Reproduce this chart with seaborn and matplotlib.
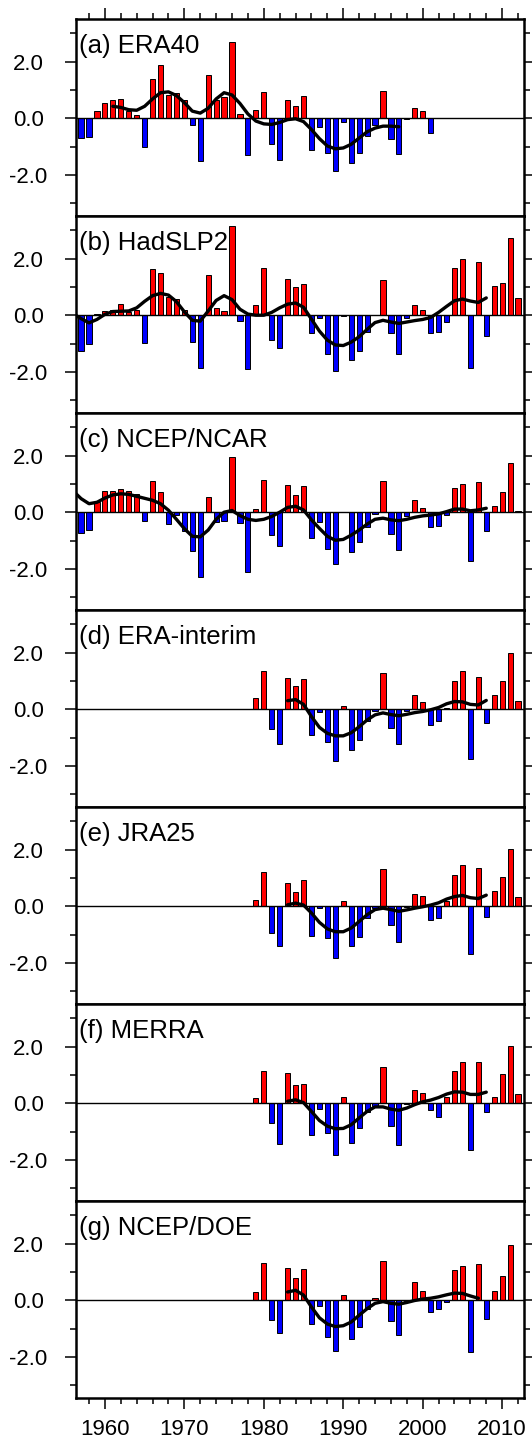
import numpy as np
import pandas as pd
import matplotlib
matplotlib.use("Agg")
import matplotlib.pyplot as plt
import seaborn as sns
from matplotlib.ticker import FixedLocator, MultipleLocator

# ---------------- data ----------------
era40_years = list(range(1957, 2002))
era40 = [-0.71, -0.65, 0.24, 0.55, 0.65, 0.69, 0.24, 0.10, -1.01, 1.40,
         1.87, 0.81, 0.88, 0.65, -0.23, -1.51, 1.52, 0.63, 0.74, 2.69,
         0.14, -1.30, 0.29, 0.93, -0.92, -1.46, 0.63, 0.42, 0.77, -1.12,
         -0.32, -1.23, -1.88, -0.14, -1.58, -1.23, -0.62, -0.24, 0.95, -0.74,
         -1.27, -0.03, 0.36, 0.27, -0.52]
era40_smooth_years = list(range(1961, 1998))
era40_smooth = [0.42, 0.38, 0.30, 0.28, 0.42, 0.68, 0.90, 0.93, 0.80, 0.55,
                0.25, 0.18, 0.35, 0.68, 0.90, 0.82, 0.52, 0.15, -0.10, -0.20,
                -0.22, -0.15, -0.05, -0.02, -0.12, -0.40, -0.72, -0.98, -1.08, -1.05,
                -0.92, -0.70, -0.48, -0.35, -0.28, -0.28, -0.30]

long_years = list(range(1957, 2013))
hadslp2 = [-1.25, -1.02, 0.03, 0.14, 0.17, 0.40, 0.10, 0.20, -0.98, 1.64,
           1.48, 0.63, 0.58, 0.20, -0.94, -1.85, 1.43, 0.25, 0.14, 3.13,
           -0.21, -1.89, 0.36, 1.67, -0.86, -1.15, 1.26, 0.98, 1.10, -0.63,
           -0.11, -1.38, -1.96, -0.02, -1.57, -1.27, -0.58, 0.02, 1.23, -0.64,
           -1.36, -0.11, 0.35, 0.20, -0.62, -0.58, -0.25, 1.67, 2.00, -1.85,
           1.88, -0.75, 1.04, 1.14, 2.73, 0.60]
long_smooth_years = list(range(1956, 2009))
hadslp2_smooth = [0.05, -0.12, -0.27, -0.15, 0.03, 0.13, 0.14, 0.15, 0.26, 0.49,
                  0.69, 0.77, 0.71, 0.48, 0.12, -0.18, -0.21, 0.15, 0.52, 0.69,
                  0.55, 0.21, 0.04, 0.00, 0.00, 0.10, 0.26, 0.39, 0.43, 0.28,
                  -0.14, -0.56, -0.88, -1.05, -1.07, -0.95, -0.76, -0.50, -0.26, -0.18,
                  -0.24, -0.29, -0.24, -0.19, -0.15, -0.08, 0.10, 0.31, 0.51, 0.57,
                  0.50, 0.45, 0.61]

ncep_ncar = [-0.73, -0.63, 0.35, 0.76, 0.74, 0.81, 0.76, 0.65, -0.31, 1.11,
             0.70, -0.42, -0.11, -0.65, -1.36, -2.27, 0.55, -0.33, -0.32, 1.95,
             -0.38, -2.12, 0.12, 1.14, -0.82, -1.20, 0.95, 0.61, 0.93, -0.90,
             -0.33, -1.29, -1.83, 0.02, -1.39, -1.06, -0.51, -0.08, 1.11, -0.76,
             -1.33, -0.15, 0.42, 0.14, -0.51, -0.49, -0.11, 0.86, 1.00, -1.73,
             1.08, -0.67, 0.23, 0.71, 1.73, 0.06]
ncep_ncar_smooth = [0.75, 0.48, 0.30, 0.35, 0.50, 0.61, 0.65, 0.63, 0.56, 0.49,
                    0.42, 0.30, 0.07, -0.25, -0.58, -0.85, -0.87, -0.63, -0.25, 0.00,
                    0.06, -0.12, -0.25, -0.29, -0.25, -0.15, 0.00, 0.17, 0.21, 0.08,
                    -0.27, -0.57, -0.85, -0.99, -0.96, -0.81, -0.63, -0.42, -0.25, -0.21,
                    -0.27, -0.30, -0.25, -0.18, -0.13, -0.10, -0.06, 0.02, 0.11, 0.11,
                    0.05, 0.08, 0.14]

short_years = list(range(1979, 2013))
short_smooth_years = list(range(1983, 2009))
era_interim = [0.38, 1.34, -0.71, -1.21, 1.10, 0.83, 1.06, -0.90, -0.09, -1.17,
               -1.84, 0.13, -1.45, -1.08, -0.43, -0.05, 1.27, -0.68, -1.23, -0.08,
               0.49, 0.26, -0.57, -0.42, 0.03, 1.00, 1.36, -1.76, 1.14, -0.50,
               0.49, 0.98, 1.98, 0.30]
era_interim_smooth = [0.30, 0.34, 0.17, -0.26, -0.64, -0.85, -0.94, -0.94, -0.83, -0.62,
                      -0.38, -0.20, -0.13, -0.19, -0.23, -0.18, -0.12, -0.08, -0.02, 0.06,
                      0.19, 0.27, 0.26, 0.17, 0.15, 0.31]

jra25 = [0.21, 1.21, -0.96, -1.42, 0.81, 0.51, 0.93, -1.06, -0.05, -1.13,
         -1.83, 0.17, -1.39, -1.07, -0.42, -0.05, 1.30, -0.65, -1.25, -0.03,
         0.44, 0.35, -0.47, -0.43, 0.17, 1.10, 1.44, -1.67, 1.34, -0.39,
         0.52, 1.04, 2.03, 0.33]
jra25_smooth = [0.05, 0.11, 0.04, -0.24, -0.57, -0.80, -0.90, -0.90, -0.77, -0.54,
                -0.30, -0.12, -0.07, -0.12, -0.18, -0.13, -0.07, -0.02, 0.04, 0.12,
                0.25, 0.34, 0.38, 0.30, 0.27, 0.39]

merra = [0.19, 1.14, -0.71, -1.45, 1.06, 0.64, 0.69, -1.12, -0.20, -1.05,
         -1.83, 0.21, -1.42, -0.86, -0.31, -0.10, 1.29, -0.81, -1.46, -0.02,
         0.48, 0.36, -0.25, -0.48, 0.21, 1.12, 1.45, -1.65, 1.46, -0.30,
         0.21, 1.03, 2.02, 0.31]
merra_smooth = [0.07, 0.12, 0.02, -0.29, -0.61, -0.81, -0.90, -0.89, -0.76, -0.52,
                -0.29, -0.13, -0.13, -0.21, -0.25, -0.17, -0.05, 0.05, 0.11, 0.20,
                0.32, 0.40, 0.39, 0.31, 0.31, 0.39]

doe_years = list(range(1979, 2012))
ncep_doe = [0.30, 1.33, -0.71, -1.15, 1.12, 0.80, 1.11, -0.85, -0.20, -1.29,
            -1.80, 0.20, -1.36, -0.96, -0.32, 0.08, 1.37, -0.74, -1.23, -0.02,
            0.63, 0.33, -0.40, -0.32, -0.06, 1.06, 1.19, -1.84, 1.26, -0.65,
            0.33, 0.86, 1.94]
doe_smooth_years = list(range(1983, 2008))
ncep_doe_smooth = [0.29, 0.35, 0.18, -0.24, -0.62, -0.84, -0.93, -0.90, -0.77, -0.53,
                   -0.30, -0.11, -0.05, -0.11, -0.14, -0.08, -0.01, 0.04, 0.07, 0.12,
                   0.19, 0.25, 0.24, 0.15, 0.07]

panel_labels = ["(a) ERA40", "(b) HadSLP2", "(c) NCEP/NCAR", "(d) ERA-interim",
                "(e) JRA25", "(f) MERRA", "(g) NCEP/DOE"]
x_tick_values = [1960, 1970, 1980, 1990, 2000, 2010]
x_tick_labels = ["1960", "1970", "1980", "1990", "2000", "2010"]
y_tick_values = [-2, 0, 2]
y_tick_labels = ["-2.0", "0.0", "2.0"]

panels = [
    (era40_years, era40, era40_smooth_years, era40_smooth),
    (long_years, hadslp2, long_smooth_years, hadslp2_smooth),
    (long_years, ncep_ncar, long_smooth_years, ncep_ncar_smooth),
    (short_years, era_interim, short_smooth_years, era_interim_smooth),
    (short_years, jra25, short_smooth_years, jra25_smooth),
    (short_years, merra, short_smooth_years, merra_smooth),
    (doe_years, ncep_doe, doe_smooth_years, ncep_doe_smooth),
]

# ---------------- figure ----------------
sns.set_style("ticks")
plt.rcParams["font.family"] = ["Liberation Sans", "DejaVu Sans"]

W, H = 532, 1443
fig = plt.figure(figsize=(W / 100, H / 100), dpi=100)
left_px, right_px = 75.5, 524.0
top_px, panel_px = 19, 197

for i, (label, (yrs, vals, syrs, svals)) in enumerate(zip(panel_labels, panels)):
    bottom = 1 - (top_px + (i + 1) * panel_px) / H
    ax = fig.add_axes([left_px / W, bottom, (right_px - left_px) / W, panel_px / H])

    df = pd.DataFrame({"year": yrs, "value": vals})
    df["sign"] = np.where(df["value"] >= 0, "pos", "neg")
    sns.barplot(data=df, x="year", y="value", hue="sign",
                palette={"pos": "#ff0000", "neg": "#0000ff"},
                native_scale=True, dodge=False, width=0.65, saturation=1,
                edgecolor="black", linewidth=0.7, errorbar=None,
                legend=False, ax=ax, zorder=2)
    ax.axhline(0, color="black", lw=1.0, zorder=3)
    sdf = pd.DataFrame({"year": syrs, "value": svals})
    sns.lineplot(data=sdf, x="year", y="value", color="black", lw=2.4,
                 estimator=None, ax=ax, zorder=4)

    ax.set_xlim(1956.3, 2012.75)
    ax.set_ylim(-3.45, 3.5)
    ax.set_xlabel("")
    ax.set_ylabel("")

    for sp in ax.spines.values():
        sp.set_linewidth(1.8)
        sp.set_color("black")
        sp.set_visible(True)

    ax.yaxis.set_major_locator(FixedLocator(y_tick_values))
    ax.yaxis.set_minor_locator(FixedLocator([-3, -1, 1, 3]))
    ax.set_yticklabels(y_tick_labels)
    for t in ax.get_yticklabels():
        t.set_horizontalalignment("center")
    ax.tick_params(axis="y", which="both", direction="out", left=True, right=True,
                   labelleft=True, labelright=False, width=1.1, colors="black",
                   labelsize=16)
    ax.tick_params(axis="y", which="major", length=8, pad=26)
    ax.tick_params(axis="y", which="minor", length=4)

    ax.xaxis.set_major_locator(FixedLocator(x_tick_values))
    ax.xaxis.set_minor_locator(MultipleLocator(2))
    ax.set_xticklabels(x_tick_labels)
    first, last = (i == 0), (i == len(panels) - 1)
    ax.tick_params(axis="x", which="both", direction="out", top=first, bottom=last,
                   labeltop=False, labelbottom=last, width=1.1, colors="black",
                   labelsize=16)
    ax.tick_params(axis="x", which="major", length=8, pad=7)
    ax.tick_params(axis="x", which="minor", length=4)

    ax.text(0.008, 0.825, label, transform=ax.transAxes, fontsize=18.5,
            ha="left", va="baseline", color="black", zorder=5)

fig.savefig("out.png", dpi=100)
